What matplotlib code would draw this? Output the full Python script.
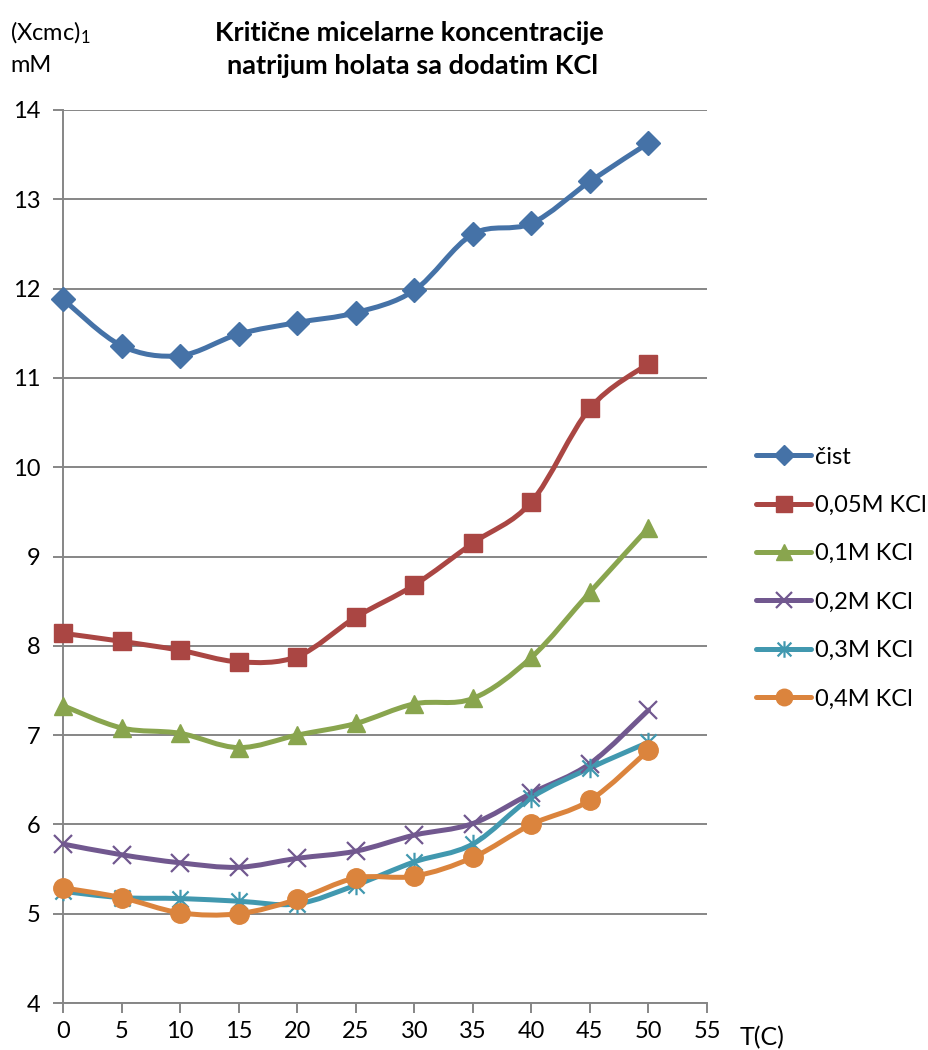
import matplotlib
matplotlib.use("Agg")
import matplotlib.pyplot as plt
from matplotlib.path import Path
from matplotlib.patches import PathPatch
from matplotlib.lines import Line2D

plt.rcParams['font.family'] = ['Lato', 'DejaVu Sans']
plt.rcParams['mathtext.fontset'] = 'custom'
plt.rcParams['mathtext.rm'] = 'Lato'
plt.rcParams['mathtext.it'] = 'Lato:italic'

temps = [0, 5, 10, 15, 20, 25, 30, 35, 40, 45, 50]

cist = [11.88, 11.36, 11.25, 11.49, 11.62, 11.73, 11.98, 12.61, 12.73, 13.20, 13.63]
kcl_005 = [8.14, 8.05, 7.95, 7.82, 7.88, 8.32, 8.68, 9.15, 9.61, 10.66, 11.16]
kcl_01 = [7.33, 7.08, 7.02, 6.86, 7.00, 7.13, 7.35, 7.41, 7.87, 8.60, 9.32]
kcl_02 = [5.78, 5.66, 5.57, 5.52, 5.62, 5.70, 5.88, 6.01, 6.35, 6.68, 7.28]
kcl_03 = [5.25, 5.18, 5.17, 5.14, 5.11, 5.32, 5.58, 5.78, 6.30, 6.63, 6.92]
kcl_04 = [5.29, 5.18, 5.01, 5.00, 5.16, 5.40, 5.42, 5.63, 6.00, 6.27, 6.83]

labels = ["čist", "0,05M KCl", "0,1M KCl", "0,2M KCl", "0,3M KCl", "0,4M KCl"]
series = [cist, kcl_005, kcl_01, kcl_02, kcl_03, kcl_04]

colors = ["#4572A7", "#AA4643", "#89A54E", "#71588F", "#4198AF", "#DB843D"]

# asterisk: an x with a vertical bar through it
star = Path([(-0.5, -0.5), (0.5, 0.5), (-0.5, 0.5), (0.5, -0.5), (0, -0.6), (0, 0.6)],
            [Path.MOVETO, Path.LINETO, Path.MOVETO, Path.LINETO, Path.MOVETO, Path.LINETO])
markers = ["D", "s", "^", "x", star, "o"]
msizes = [12, 13, 13, 13, 14, 14]


def smooth_path(xs, ys):
    # catmull-rom through the points, as cubic bezier segments
    pts = list(zip(xs, ys))
    verts = [pts[0]]
    codes = [Path.MOVETO]
    n = len(pts)
    for i in range(n - 1):
        p0 = pts[i - 1] if i > 0 else pts[i]
        p1 = pts[i]
        p2 = pts[i + 1]
        p3 = pts[i + 2] if i + 2 < n else pts[i + 1]
        c1 = (p1[0] + (p2[0] - p0[0]) / 6, p1[1] + (p2[1] - p0[1]) / 6)
        c2 = (p2[0] - (p3[0] - p1[0]) / 6, p2[1] - (p3[1] - p1[1]) / 6)
        verts += [c1, c2, p2]
        codes += [Path.CURVE4] * 3
    return Path(verts, codes)


fs = 17
fig = plt.figure(figsize=(9.29, 10.5), dpi=100)
ax = fig.add_axes([63 / 929, 1 - 1003 / 1050, (707 - 63) / 929, (1003 - 110) / 1050])

grid_c = "#868686"
for v in range(4, 15):
    ax.axhline(v, color=grid_c, lw=1.4, zorder=1)

handles = []
for vals, lab, c, m, ms in zip(series, labels, colors, markers, msizes):
    ax.add_patch(PathPatch(smooth_path(temps, vals), fill=False, edgecolor=c,
                           lw=3.6, capstyle='round', joinstyle='round', zorder=3))
    mew = 1.6 if m == "x" or m is star else 1
    ax.plot(temps, vals, linestyle='none', marker=m, ms=ms, color=c,
            mec=c, mew=mew, zorder=4, clip_on=False)
    handles.append(Line2D([], [], color=c, lw=3.6, marker=m, ms=ms * 0.85,
                          mec=c, mew=mew, solid_capstyle='round'))

ax.set_xlim(0, 55)
ax.set_ylim(4, 14)
ax.set_xticks(range(0, 56, 5))
ax.set_yticks(range(4, 15))
for s in ["top", "right"]:
    ax.spines[s].set_visible(False)
for s in ["left", "bottom"]:
    ax.spines[s].set_color(grid_c)
    ax.spines[s].set_linewidth(1.4)
ax.tick_params(axis='both', direction='out', length=7, width=1.4, color=grid_c,
               labelsize=fs, labelcolor="black")
ax.tick_params(axis='y', pad=9)
ax.tick_params(axis='x', pad=6)

leg = fig.legend(handles=handles, labels=labels, loc='center left',
                 bbox_to_anchor=(756 / 929, 1 - 578 / 1050), frameon=False,
                 fontsize=fs, handlelength=2.35, handletextpad=0.17,
                 labelspacing=1.16, borderpad=0, borderaxespad=0)

fig.text(409 / 929, 1 - 33 / 1050, "Kritične micelarne koncentracije",
         ha='center', va='center', fontsize=19.5, fontweight='bold')
fig.text(413 / 929, 1 - 66 / 1050, "natrijum holata sa dodatim KCl",
         ha='center', va='center', fontsize=19.5, fontweight='bold')
fig.text(10 / 929, 1 - 33 / 1050, "(Xcmc)$_1$", ha='left', va='center', fontsize=fs)
fig.text(10 / 929, 1 - 66 / 1050, "mM", ha='left', va='center', fontsize=fs)
fig.text(740 / 929, 1 - 1038 / 1050, "T(C)", ha='left', va='center', fontsize=18)

fig.savefig("out.png", dpi=100)
